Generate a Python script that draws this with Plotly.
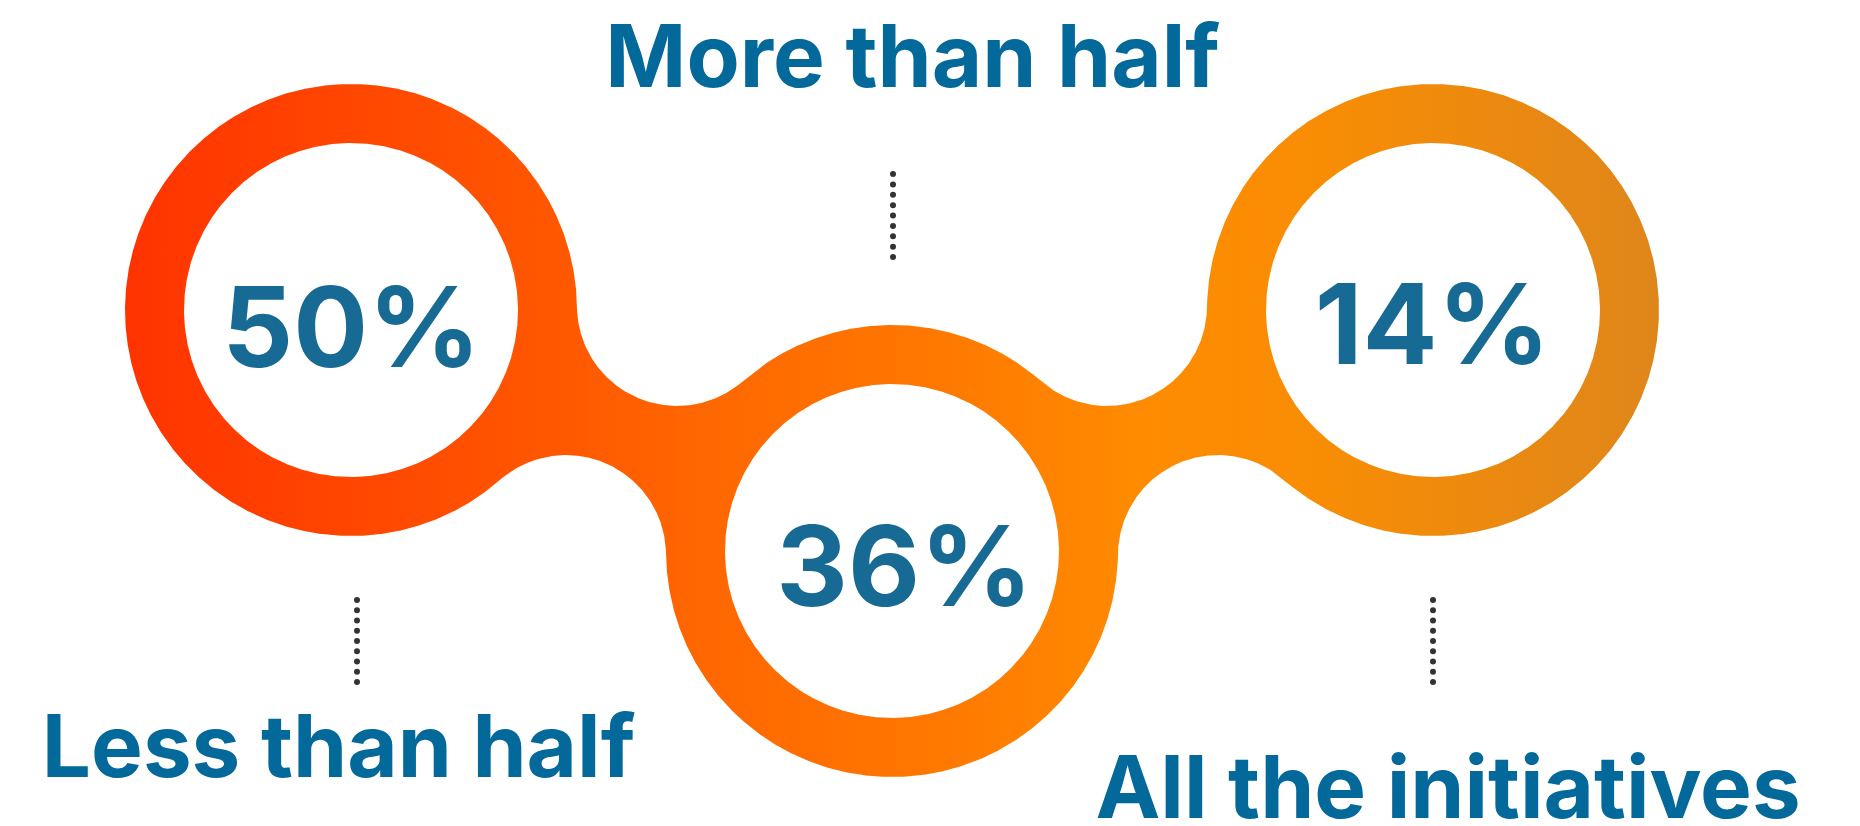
import math
import plotly.graph_objects as go

# ---- data ----
categories = ["Less than half", "More than half", "All the initiatives"]
shares = [50, 36, 14]

# ---- layout constants (pixel space, y grows downward) ----
W, H = 1860, 826
ring_centers = [(351, 310), (892, 551), (1433, 310)]
R_OUT, R_IN = 226, 167
GAP_R = 100

NUM_FONT = 111
LABEL_FONT = 87
FONT = "Inter"
LABEL_COLOR = "#03689A"
NUM_COLOR = "#166A93"
DOT_COLOR = "#333333"

# number label placement: (center x, baseline y)
num_pos = [(351.5, 367), (904.5, 606), (1432.5, 364)]
# category label placement: (center x, baseline y)
label_pos = [(338.6, 777), (912.6, 87), (1448, 818)]
# leader dots: (x, first y, last y)
leaders = [(357, 600, 682), (893, 174, 257), (1433, 600, 682)]
N_DOTS = 9


def ang(a, b):
    return math.degrees(math.atan2(b[1] - a[1], b[0] - a[0]))


def arc(c, r, a0, a1, clockwise):
    if clockwise:
        while a1 <= a0:
            a1 += 360
    else:
        while a1 >= a0:
            a1 -= 360
    n = max(int(abs(a1 - a0) * 4), 8)
    pts = []
    for i in range(n + 1):
        t = math.radians(a0 + (a1 - a0) * i / n)
        pts.append((c[0] + r * math.cos(t), c[1] + r * math.sin(t)))
    return pts


def gap_circles(a, b):
    """Centres of the two circles of radius GAP_R tangent to both outer rings."""
    mx, my = (a[0] + b[0]) / 2, (a[1] + b[1]) / 2
    dx, dy = b[0] - a[0], b[1] - a[1]
    d = math.hypot(dx, dy)
    h = math.sqrt((R_OUT + GAP_R) ** 2 - (d / 2) ** 2)
    px, py = -dy / d, dx / d
    c1 = (mx + h * px, my + h * py)
    c2 = (mx - h * px, my - h * py)
    return (c1, c2) if c1[1] < c2[1] else (c2, c1)  # (upper, lower)


L, M, Rr = ring_centers
g1u, g1l = gap_circles(L, M)
g2u, g2l = gap_circles(M, Rr)

outline = []
outline += arc(L, R_OUT, ang(L, g1l), ang(L, g1u), True)
outline += arc(g1u, GAP_R, ang(g1u, L), ang(g1u, M), False)
outline += arc(M, R_OUT, ang(M, g1u), ang(M, g2u), True)
outline += arc(g2u, GAP_R, ang(g2u, M), ang(g2u, Rr), False)
outline += arc(Rr, R_OUT, ang(Rr, g2u), ang(Rr, g2l), True)
outline += arc(g2l, GAP_R, ang(g2l, Rr), ang(g2l, M), False)
outline += arc(M, R_OUT, ang(M, g2l), ang(M, g1l), True)
outline += arc(g1l, GAP_R, ang(g1l, M), ang(g1l, L), False)

fig = go.Figure()

# orange connected band with a left-to-right gradient
fig.add_trace(go.Scatter(
    x=[p[0] for p in outline], y=[p[1] for p in outline],
    mode="lines", fill="toself", line=dict(width=0),
    fillgradient=dict(
        type="horizontal",
        colorscale=[
            [0.0, "#FF3300"],
            [0.30, "#FF5A00"],
            [0.37, "#FF6600"],
            [0.52, "#FF7700"],
            [0.66, "#FF8B00"],
            [0.78, "#F88D04"],
            [1.0, "#DF861B"],
        ],
    ),
    hoverinfo="skip", showlegend=False,
))

# white centres of the rings
for c in ring_centers:
    hole = arc(c, R_IN, 0, 360, True)
    fig.add_trace(go.Scatter(
        x=[p[0] for p in hole], y=[p[1] for p in hole],
        mode="lines", fill="toself", fillcolor="white", line=dict(width=0),
        hoverinfo="skip", showlegend=False,
    ))

# dotted leaders
for (lx, y0, y1) in leaders:
    step = (y1 - y0) / (N_DOTS - 1)
    ys = [y0 + i * step for i in range(N_DOTS)]
    fig.add_trace(go.Scatter(
        x=[lx] * N_DOTS, y=ys, mode="markers",
        marker=dict(size=6, color=DOT_COLOR),
        hoverinfo="skip", showlegend=False,
    ))

# percentages inside the rings
fig.add_trace(go.Scatter(
    x=[p[0] for p in num_pos],
    y=[p[1] - 0.25 * NUM_FONT for p in num_pos],
    mode="text", text=[f"{v}%" for v in shares], textposition="middle center",
    textfont=dict(family=FONT, size=NUM_FONT, color=NUM_COLOR, weight=700),
    hoverinfo="skip", showlegend=False,
))

# category labels
fig.add_trace(go.Scatter(
    x=[p[0] for p in label_pos],
    y=[p[1] - 0.25 * LABEL_FONT for p in label_pos],
    mode="text", text=categories, textposition="middle center",
    textfont=dict(family=FONT, size=LABEL_FONT, color=LABEL_COLOR, weight=700),
    hoverinfo="skip", showlegend=False,
))

fig.update_layout(
    width=W, height=H,
    margin=dict(l=0, r=0, t=0, b=0),
    paper_bgcolor="white", plot_bgcolor="white",
    xaxis=dict(range=[0, W], visible=False, fixedrange=True),
    yaxis=dict(range=[H, 0], visible=False, fixedrange=True),
    showlegend=False,
)

fig.write_html("out.html", config={"displayModeBar": False})
